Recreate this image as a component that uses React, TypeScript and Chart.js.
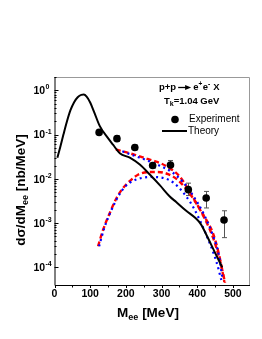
import React, { useEffect, useRef } from "react";
import { Chart, registerables } from "chart.js";

Chart.register(...registerables);

// Experiment (M_ee in MeV, dσ/dM in nb/MeV)
const expMass = [125, 175, 225, 275, 325, 375, 425, 475];
const expValues = [0.112, 0.081, 0.051, 0.02, 0.0205, 0.0057, 0.0037, 0.00118];
const expErrLow = [0.1, 0.07, 0.045, 0.0175, 0.016, 0.0042, 0.0022, 0.00047];
const expErrHigh = [0.125, 0.094, 0.058, 0.023, 0.026, 0.008, 0.0052, 0.0019];

// Theory (black solid)
const theoryMass = [8, 16, 25, 35, 45, 55, 65, 75, 82, 90, 100, 110, 127, 150, 164, 183, 211, 239, 267, 295, 323, 341, 369, 395, 410, 430, 448, 470];
const theoryValues = [0.03, 0.052, 0.1, 0.2, 0.36, 0.54, 0.7, 0.79, 0.8, 0.72, 0.53, 0.34, 0.155, 0.083, 0.059, 0.038, 0.03, 0.021, 0.0125, 0.0072, 0.004, 0.003, 0.0019, 0.0013, 0.00095, 0.00046, 0.00023, 0.0001];

// Upper red dashed
const redUpperMass = [172, 200, 225, 250, 275, 300, 325, 350, 375, 400, 425, 444, 462, 476];
const redUpperValues = [0.046, 0.04, 0.035, 0.03, 0.026, 0.022, 0.017, 0.0115, 0.0058, 0.0026, 0.0012, 0.00059, 0.00018, 0.000047];

// Upper blue dotted
const blueUpperMass = [190, 225, 260, 300, 330, 360, 390, 420, 445, 460, 470];
const blueUpperValues = [0.042, 0.033, 0.026, 0.019, 0.014, 0.0085, 0.004, 0.0015, 0.0005, 0.0002, 0.00006];

// Lower red dashed
const redLowerMass = [122, 136, 155, 174, 192, 211, 234, 262, 290, 318, 345, 370, 395, 420, 445, 465, 478];
const redLowerValues = [0.0003, 0.0007, 0.0017, 0.0037, 0.0062, 0.0089, 0.0124, 0.0142, 0.0143, 0.0128, 0.0095, 0.0058, 0.003, 0.0013, 0.00045, 0.00013, 0.000045];

// Lower blue dotted
const blueLowerMass = [125, 140, 160, 180, 200, 220, 245, 270, 295, 320, 346, 369, 390, 425, 453, 468];
const blueLowerValues = [0.0003, 0.0008, 0.002, 0.0042, 0.007, 0.009, 0.0105, 0.011, 0.0108, 0.0095, 0.0067, 0.004, 0.0022, 0.00055, 0.00014, 0.00005];

const xTickValues = [0, 100, 200, 300, 400, 500];
const yDecades = [-4, -3, -2, -1, 0];

const FONT = '"Liberation Sans", Arial, Helvetica, sans-serif';

const toXY = (xs: number[], ys: number[]) => xs.map((x, i) => ({ x, y: ys[i] }));

const customPlugin = {
  id: "customDecor",
  beforeDatasetsDraw(chart: any) {
    const ctx = chart.ctx;
    const xs = chart.scales.x;
    const ys = chart.scales.y;
    ctx.save();
    ctx.strokeStyle = "#555";
    ctx.lineWidth = 1;
    expMass.forEach((m, i) => {
      const px = Math.round(xs.getPixelForValue(m)) + 0.5;
      const top = ys.getPixelForValue(expErrHigh[i]);
      const bot = ys.getPixelForValue(expErrLow[i]);
      ctx.beginPath();
      ctx.moveTo(px, top);
      ctx.lineTo(px, bot);
      ctx.moveTo(px - 2.5, top);
      ctx.lineTo(px + 2.5, top);
      ctx.moveTo(px - 2.5, bot);
      ctx.lineTo(px + 2.5, bot);
      ctx.stroke();
    });
    ctx.restore();
  },
  afterDraw(chart: any) {
    const ctx = chart.ctx;
    const a = chart.chartArea;
    const xs = chart.scales.x;
    const ys = chart.scales.y;
    ctx.save();
    // frame
    ctx.lineWidth = 1;
    ctx.strokeStyle = "#999";
    ctx.beginPath();
    ctx.moveTo(a.left, a.top + 0.5);
    ctx.lineTo(a.right + 0.5, a.top + 0.5);
    ctx.lineTo(a.right + 0.5, a.bottom);
    ctx.stroke();
    ctx.strokeStyle = "#000";
    ctx.beginPath();
    ctx.moveTo(a.left + 0.5, a.top);
    ctx.lineTo(a.left + 0.5, a.bottom + 0.5);
    ctx.lineTo(a.right + 1, a.bottom + 0.5);
    ctx.stroke();

    // x ticks (outward)
    ctx.beginPath();
    for (let v = 0; v <= 500; v += 50) {
      const px = Math.round(xs.getPixelForValue(v)) + 0.5;
      const len = v % 100 === 0 ? 3 : 2.5;
      ctx.moveTo(px, a.bottom);
      ctx.lineTo(px, a.bottom + len);
    }
    // y ticks (inward)
    yDecades.forEach((d) => {
      for (let k = 1; k <= 9; k++) {
        const v = k * Math.pow(10, d);
        if (v < ys.min || v > ys.max) continue;
        const py = Math.round(ys.getPixelForValue(v)) + 0.5;
        const len = k === 1 ? 4 : 2;
        ctx.moveTo(a.left, py);
        ctx.lineTo(a.left + len, py);
      }
    });
    ctx.stroke();

    // y tick labels
    ctx.fillStyle = "#000";
    yDecades.forEach((d) => {
      const py = ys.getPixelForValue(Math.pow(10, d));
      ctx.font = `bold 10.5px ${FONT}`;
      ctx.textAlign = "left";
      ctx.textBaseline = "middle";
      ctx.fillText("10", 33.5, py + 1);
      ctx.font = `bold 7px ${FONT}`;
      ctx.fillText(String(d), 45.5, py - 3);
    });

    const drawPieces = (pieces: { t: string; f: string; dy: number }[], cx: number, cy: number) => {
      let total = 0;
      pieces.forEach((p) => {
        ctx.font = p.f;
        total += ctx.measureText(p.t).width;
      });
      let x = cx - total / 2;
      ctx.textAlign = "left";
      ctx.textBaseline = "alphabetic";
      pieces.forEach((p) => {
        ctx.font = p.f;
        ctx.fillText(p.t, x, cy + p.dy);
        x += ctx.measureText(p.t).width;
      });
    };
    const big = `bold 13.5px ${FONT}`;
    const sub = `bold 9px ${FONT}`;
    // x title
    drawPieces(
      [
        { t: "M", f: big, dy: 0 },
        { t: "ee", f: sub, dy: 3 },
        { t: " [MeV]", f: big, dy: 0 },
      ],
      148,
      317
    );
    // y title
    ctx.save();
    ctx.translate(25, 190);
    ctx.rotate(-Math.PI / 2);
    drawPieces(
      [
        { t: "dσ/dM", f: big, dy: 0 },
        { t: "ee", f: sub, dy: 3 },
        { t: " [nb/MeV]", f: big, dy: 0 },
      ],
      0,
      0
    );
    ctx.restore();

    // Legend / annotations
    ctx.fillStyle = "#000";
    ctx.strokeStyle = "#000";
    ctx.textBaseline = "middle";
    ctx.textAlign = "left";
    const f9 = `bold 9.5px ${FONT}`;
    const f6 = `bold 6.5px ${FONT}`;
    let x = 159;
    const y1 = 87.5;
    ctx.font = f9;
    ctx.fillText("p+p", x, y1);
    x += ctx.measureText("p+p").width + 2;
    // arrow
    ctx.lineWidth = 1.3;
    ctx.beginPath();
    ctx.moveTo(x, y1);
    ctx.lineTo(x + 9, y1);
    ctx.stroke();
    ctx.beginPath();
    ctx.moveTo(x + 7, y1 - 2.5);
    ctx.lineTo(x + 13, y1);
    ctx.lineTo(x + 7, y1 + 2.5);
    ctx.closePath();
    ctx.fill();
    x += 15;
    const supPieces = [
      { t: "e", f: f9, dy: 0 },
      { t: "+", f: f6, dy: -3.5 },
      { t: "e", f: f9, dy: 0 },
      { t: "-", f: f6, dy: -3.5 },
      { t: " X", f: f9, dy: 0 },
    ];
    supPieces.forEach((p) => {
      ctx.font = p.f;
      ctx.fillText(p.t, x, y1 + p.dy);
      x += ctx.measureText(p.t).width + (p.f === f6 ? 0.5 : 0);
    });

    const f95 = `bold 9.5px ${FONT}`;
    const y2 = 101.5;
    x = 164;
    const tPieces = [
      { t: "T", f: f95, dy: 0 },
      { t: "k", f: `bold 7px ${FONT}`, dy: 2.5 },
      { t: "=1.04 GeV", f: f95, dy: 0 },
    ];
    tPieces.forEach((p) => {
      ctx.font = p.f;
      ctx.fillText(p.t, x, y2 + p.dy);
      x += ctx.measureText(p.t).width;
    });

    // Experiment legend
    ctx.beginPath();
    ctx.arc(175, 119.5, 3.8, 0, Math.PI * 2);
    ctx.fill();
    ctx.font = `10px ${FONT}`;
    ctx.fillText("Experiment", 189, 119.5);
    // Theory legend
    ctx.lineWidth = 2;
    ctx.beginPath();
    ctx.moveTo(162, 131);
    ctx.lineTo(187, 131);
    ctx.stroke();
    ctx.fillText("Theory", 188, 131);

    ctx.restore();
  },
};

export default function App() {
  const canvasRef = useRef<HTMLCanvasElement | null>(null);

  useEffect(() => {
    const canvas = canvasRef.current;
    if (!canvas) return;
    const lineBase = { pointRadius: 0, fill: false, cubicInterpolationMode: "monotone" as const };
    const chart = new Chart(canvas, {
      type: "line",
      data: {
        datasets: [
          {
            label: "Experiment",
            data: toXY(expMass, expValues),
            showLine: false,
            pointRadius: 3.8,
            pointBackgroundColor: "#000",
            pointBorderColor: "#000",
            pointBorderWidth: 0,
          },
          {
            label: "Theory",
            data: toXY(theoryMass, theoryValues),
            borderColor: "#000",
            borderWidth: 2,
            ...lineBase,
          },
          {
            label: "Blue upper",
            data: toXY(blueUpperMass, blueUpperValues),
            borderColor: "#0000ff",
            borderWidth: 2.2,
            borderDash: [2, 3.5],
            ...lineBase,
          },
          {
            label: "Blue lower",
            data: toXY(blueLowerMass, blueLowerValues),
            borderColor: "#0000ff",
            borderWidth: 2.2,
            borderDash: [2, 3.5],
            ...lineBase,
          },
          {
            label: "Red upper",
            data: toXY(redUpperMass, redUpperValues),
            borderColor: "#ff0000",
            borderWidth: 2.4,
            borderDash: [5, 3],
            ...lineBase,
          },
          {
            label: "Red lower",
            data: toXY(redLowerMass, redLowerValues),
            borderColor: "#ff0000",
            borderWidth: 2.4,
            borderDash: [5, 3],
            ...lineBase,
          },
        ],
      },
      options: {
        responsive: false,
        animation: false,
        devicePixelRatio: 1,
        layout: { padding: { left: 0, right: 13, top: 77, bottom: 0 } },
        plugins: { legend: { display: false }, tooltip: { enabled: false } },
        scales: {
          x: {
            type: "linear",
            min: 0,
            max: 545,
            afterFit: (s: any) => {
              s.height = 54;
            },
            grid: { display: false, drawTicks: false, tickLength: 0 },
            border: { display: false },
            ticks: {
              stepSize: 100,
              includeBounds: false,
              autoSkip: false,
              maxRotation: 0,
              padding: 3,
              color: "#000",
              font: { family: FONT, size: 10.5, weight: "bold" },
              callback: (v: any) => (xTickValues.includes(Number(v)) ? String(v) : ""),
            },
          },
          y: {
            type: "logarithmic",
            min: 4e-5,
            max: 2,
            afterFit: (s: any) => {
              s.width = 54.5;
            },
            grid: { display: false },
            border: { display: false },
            ticks: { display: false },
          },
        },
      },
      plugins: [customPlugin],
    } as any);
    return () => chart.destroy();
  }, []);

  return (
    <div style={{ position: "absolute", left: 0, top: 0, width: 262, height: 339, background: "#fff" }}>
      <canvas ref={canvasRef} width={262} height={339} style={{ display: "block" }} />
    </div>
  );
}
